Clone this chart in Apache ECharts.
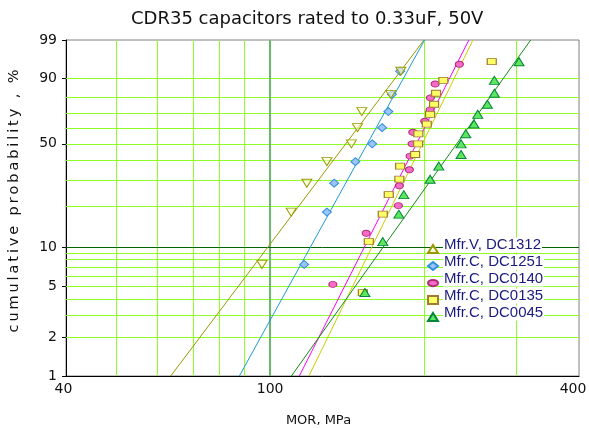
<!DOCTYPE html>
<html>
<head>
<meta charset="utf-8">
<script src="https://cdn.jsdelivr.net/npm/echarts@6/dist/echarts.min.js"></script>
<style>
  html, body { margin: 0; padding: 0; background: #fff; }
  #chart { width: 589px; height: 428px; }
</style>
</head>
<body>
<div id="chart"></div>
<script>
// median ranks, %
var rankN9 = [7.4, 18.1, 28.7, 39.4, 50.0, 60.6, 71.3, 81.9, 92.6];
var rankN13 = [5.2, 12.7, 20.1, 27.6, 35.1, 42.5, 50.0, 57.5, 64.9, 72.4, 79.9, 87.3, 94.8];
var rankN15 = [4.5, 11.0, 17.5, 24.0, 30.5, 37.0, 43.5, 50.0, 56.5, 63.0, 69.5, 76.0, 82.5, 89.0, 95.5];

// MOR values, MPa
var mor1312 = [96.4, 109.9, 117.9, 129.0, 144.0, 148.0, 150.9, 171.9, 179.8];
var mor1251 = [116.5, 129.0, 133.3, 146.6, 158.1, 165.3, 170.0, 172.7, 179.2];
var mor0140 = [132.5, 153.9, 177.8, 178.6, 186.8, 187.4, 189.1, 189.7, 200.2, 205.0, 205.3, 209.7, 233.8];
var mor0135 = [151.6, 155.7, 165.8, 170.3, 178.6, 179.2, 191.7, 194.3, 194.5, 202.0, 205.0, 208.7, 210.6, 217.6, 270.4];
var mor0045 = [153.0, 165.8, 178.2, 182.2, 205.0, 213.2, 235.6, 235.6, 240.6, 249.7, 253.9, 265.1, 273.6, 273.6, 305.6];

// fitted Weibull lines: MOR at 1% and 99%
var fitProb = [1, 99];
var fit1312 = [64, 199.5];
var fit1251 = [87.1, 200];
var fit0140 = [114, 244];
var fit0135 = [119, 248.5];
var fit0045 = [110, 322];

// axis ticks / grid
var morLabels = [40, 100, 400];
var probLabels = [1, 2, 5, 10, 50, 90, 99];
var probGrid = [2, 3, 4, 5, 6, 7, 8, 9, 20, 30, 40, 50, 60, 70, 80, 90];
var probGridDark = [10];
var morGrid = [50, 60, 70, 80, 90, 200, 300];
var morGridDark = [100];

var names = ['Mfr.V, DC1312', 'Mfr.C, DC1251', 'Mfr.C, DC0140', 'Mfr.C, DC0135', 'Mfr.C, DC0045'];

// weibull probability scale (y) and log scale (x)
function wb(p) { return Math.log(-Math.log(1 - p / 100)); }
function lg(x) { return Math.log10(x); }
function pts(xs, ps) { return xs.map(function (x, i) { return [lg(x), wb(ps[i])]; }); }

var ellipse = 'path://M0,5A8,5 0 1,1 16,5A8,5 0 1,1 0,5Z';
var lightGreen = '#8cff26';

var gridLines = [];
morGrid.forEach(function (v) { gridLines.push({ xAxis: lg(v), lineStyle: { color: lightGreen, width: 1, type: 'solid' } }); });
probGrid.forEach(function (v) { gridLines.push({ yAxis: wb(v), lineStyle: { color: lightGreen, width: 1, type: 'solid' } }); });
morGridDark.forEach(function (v) { gridLines.push({ xAxis: lg(v), lineStyle: { color: '#6cb86c', width: 2, type: 'solid' } }); });
probGridDark.forEach(function (v) { gridLines.push({ yAxis: wb(v), lineStyle: { color: '#006400', width: 1, type: 'solid' } }); });

function fitLine(name, xs, color) {
  return {
    name: name + ' fit', type: 'line', data: pts(xs, fitProb),
    showSymbol: false, silent: true, z: 2,
    lineStyle: { color: color, width: 1 }
  };
}

var yName = 'cumulative probability , %'.split('').join('\u2009');

var chart = echarts.init(document.getElementById('chart'));
chart.setOption({
  animation: false,
  backgroundColor: '#fff',
  title: {
    text: 'CDR35 capacitors rated to 0.33uF, 50V',
    left: 126, top: 5,
    textStyle: { fontFamily: 'DejaVu Sans', fontSize: 18, fontWeight: 'normal', color: '#111' }
  },
  grid: {
    left: 66, right: 10, top: 40, bottom: 52,
    outerBoundsMode: 'none',
    show: true, borderColor: '#808080', borderWidth: 1
  },
  legend: {
    data: names,
    orient: 'vertical',
    left: 427, top: 237,
    padding: 0,
    itemWidth: 10, itemHeight: 8, itemGap: -7,
    formatter: function (name) { return '{t|' + name + '}'; },
    textStyle: {
      fontFamily: 'Liberation Sans', fontSize: 15, color: '#1a1a80',
      lineHeight: 16, padding: [0, 0, 8, 0],
      rich: {
        t: {
          fontFamily: 'Liberation Sans', fontSize: 15, color: '#1a1a80',
          lineHeight: 16, backgroundColor: '#fff', padding: [0, 1]
        }
      }
    }
  },
  xAxis: {
    type: 'value', min: lg(40), max: lg(400),
    name: 'MOR, MPa', nameLocation: 'middle', nameGap: 38,
    nameTextStyle: { fontFamily: 'DejaVu Sans', fontSize: 13, color: '#111', padding: [0, 8, 0, 0] },
    axisLine: { onZero: false, lineStyle: { color: '#000', width: 1 } },
    axisTick: { show: false },
    axisLabel: {
      fontFamily: 'DejaVu Sans', fontSize: 14, color: '#111', margin: 6,
      customValues: morLabels.map(lg),
      formatter: function (v) {
        var s = String(Math.round(Math.pow(10, v)));
        if (s === '400') return '{r|' + s + '}';
        if (s === '40') return '{l|' + s + '}';
        return s;
      },
      rich: {
        r: { fontFamily: 'DejaVu Sans', fontSize: 14, color: '#111', padding: [0, 12, 0, 0] },
        l: { fontFamily: 'DejaVu Sans', fontSize: 14, color: '#111', padding: [0, 5, 0, 0] }
      }
    },
    splitLine: { show: false }
  },
  yAxis: {
    type: 'value', min: wb(1), max: wb(99),
    name: yName, nameLocation: 'middle', nameGap: 44, nameRotate: 90,
    nameTextStyle: { fontFamily: 'DejaVu Sans', fontSize: 14.5, color: '#111', padding: [0, 0, 0, 14] },
    axisLine: { show: true, onZero: false, lineStyle: { color: '#000', width: 1 } },
    axisTick: { show: true, length: 4, customValues: probLabels.map(wb), lineStyle: { color: '#000' } },
    axisLabel: {
      fontFamily: 'DejaVu Sans', fontSize: 14, color: '#111', margin: 9,
      customValues: probLabels.map(wb),
      formatter: function (v) { return String(Math.round(100 * (1 - Math.exp(-Math.exp(v))))); }
    },
    splitLine: { show: false }
  },
  series: [
    {
      name: 'grid', type: 'line', data: [], silent: true,
      markLine: { silent: true, symbol: 'none', z: 1, label: { show: false }, animation: false, data: gridLines }
    },
    fitLine(names[0], fit1312, '#999900'),
    fitLine(names[1], fit1251, '#1e9ad8'),
    fitLine(names[2], fit0140, '#ff00ff'),
    fitLine(names[3], fit0135, '#cccc00'),
    fitLine(names[4], fit0045, '#138a13'),
    {
      name: names[1], type: 'scatter', data: pts(mor1251, rankN9), z: 3,
      symbol: 'diamond', symbolSize: [9, 8],
      itemStyle: { color: '#9cc4f4', borderColor: '#2f8fe0', borderWidth: 1, opacity: 1 }
    },
    {
      name: names[0], type: 'scatter', data: pts(mor1312, rankN9), z: 4,
      symbol: 'triangle', symbolRotate: 180, symbolSize: [10, 8],
      itemStyle: { color: 'rgba(255,255,210,0.55)', borderColor: '#999900', borderWidth: 1, opacity: 1 }
    },
    {
      name: names[2], type: 'scatter', data: pts(mor0140, rankN13), z: 3,
      symbol: ellipse, symbolSize: [8, 6],
      itemStyle: { color: '#f46cc8', borderColor: '#b02a78', borderWidth: 1, opacity: 1 }
    },
    {
      name: names[3], type: 'scatter', data: pts(mor0135, rankN15), z: 3,
      symbol: 'rect', symbolSize: [9, 6],
      itemStyle: { color: '#ffff66', borderColor: '#a07830', borderWidth: 1, opacity: 1 }
    },
    {
      name: names[4], type: 'scatter', data: pts(mor0045, rankN15), z: 3,
      symbol: 'triangle', symbolSize: [10, 8],
      itemStyle: { color: '#5ee65e', borderColor: '#00853a', borderWidth: 1, opacity: 1 }
    }
  ]
});
</script>
</body>
</html>
